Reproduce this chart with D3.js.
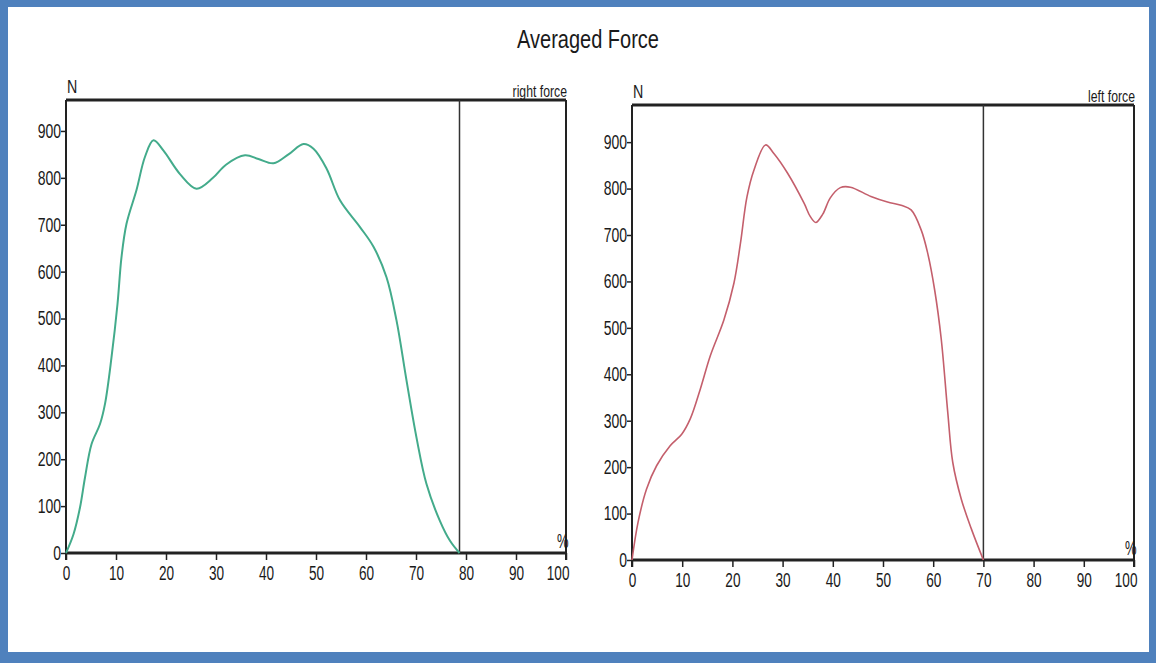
<!DOCTYPE html>
<html>
<head>
<meta charset="utf-8">
<script src="https://cdn.jsdelivr.net/npm/d3@7"></script>
<style>
  html, body { margin: 0; padding: 0; background: #fff; }
  svg { display: block; }
  text { font-family: "Liberation Sans", Arial, sans-serif; fill: #1a1a1a; }
</style>
</head>
<body>
<svg id="chart" width="1156" height="663"></svg>
<script>
// Averaged force over the stance phase (% of cycle), in newtons
const rightPct   = [0, 1.5, 2.8, 3.8, 5.1, 6.8, 7.8, 9.1, 10.3, 11.1, 12.1, 14.1, 15.8, 17.5, 19.5, 22.8, 26.1, 29.4, 32, 35.8, 38.5, 41.5, 44.5, 47.5, 49.5, 52.1, 54.8, 58.8, 61.5, 64.1, 66.1, 68.1, 70.1, 72.1, 74.8, 76.8, 78.7];
const rightForce = [0, 40, 97, 161, 232, 275, 318, 417, 531, 631, 702, 774, 845, 880, 858, 808, 777, 800, 828, 848, 840, 831, 850, 872, 862, 820, 752, 695, 653, 588, 496, 368, 246, 147, 68, 26, 0];

const leftPct   = [0, 1.2, 2.9, 4.9, 7.6, 9.9, 11.6, 13.6, 15.6, 18.3, 20.3, 21.6, 22.9, 24.3, 26.6, 28.3, 31, 34.3, 35.5, 36.6, 38, 39.5, 41.5, 43.5, 47.6, 50.9, 53.6, 55.6, 57.6, 58.9, 60.3, 61.6, 62.9, 63.9, 65.6, 67.6, 70];
const leftForce = [0, 81, 153, 203, 246, 271, 304, 368, 440, 517, 596, 682, 782, 840, 894, 875, 833, 768, 740, 727, 745, 780, 802, 803, 783, 771, 764, 754, 711, 661, 581, 476, 318, 210, 131, 67, 0];

// End of contact for each side (% of cycle)
const rightEnd = 78.7;
const leftEnd = 70;

const xTicks = [0, 10, 20, 30, 40, 50, 60, 70, 80, 90, 100];
const yTicks = [0, 100, 200, 300, 400, 500, 600, 700, 800, 900];

const titleText = "Averaged Force";

const svg = d3.select("#chart");

// squeeze text horizontally to get a narrow typeface look
function condense(sel, k) {
  sel.each(function () {
    const w = this.getComputedTextLength();
    d3.select(this).attr("textLength", w * k).attr("lengthAdjust", "spacingAndGlyphs");
  });
}

// blue frame around the figure
svg.append("rect").attr("x", 0).attr("y", 0).attr("width", 1156).attr("height", 663).attr("fill", "#4f81bd");
svg.append("rect").attr("x", 8).attr("y", 7).attr("width", 1141).attr("height", 645).attr("fill", "#ffffff");

svg.append("text")
  .attr("x", 588).attr("y", 48)
  .attr("text-anchor", "middle")
  .style("font-size", "25px")
  .text(titleText)
  .call(condense, 0.8);

function panel(cfg) {
  const x = d3.scaleLinear().domain([0, 100]).range([cfg.left, cfg.right]);
  const y = d3.scaleLinear().domain([0, cfg.yMax]).range([cfg.bottom, cfg.top]);
  const g = svg.append("g");

  // x axis
  const xa = g.append("g")
    .attr("transform", `translate(0,${cfg.bottom})`)
    .call(d3.axisBottom(x).tickValues(xTicks).tickSize(7).tickPadding(6).tickFormat(d3.format("d")));
  xa.select(".domain").remove();
  xa.selectAll(".tick line").attr("stroke", "#222").attr("stroke-width", 1.5);
  xa.selectAll(".tick text").style("font-size", "20px").attr("fill", "#1a1a1a").attr("font-family", null);
  xa.selectAll(".tick text").filter(d => d === 100).attr("text-anchor", "end").attr("dx", "3");
  xa.selectAll(".tick text").call(condense, 0.68);

  // y axis
  const ya = g.append("g")
    .attr("transform", `translate(${cfg.left},0)`)
    .call(d3.axisLeft(y).tickValues(yTicks).tickSize(5).tickPadding(0).tickFormat(d3.format("d")));
  ya.select(".domain").remove();
  ya.selectAll(".tick line").attr("stroke", "#222").attr("stroke-width", 1.5);
  ya.selectAll(".tick text").style("font-size", "20px").attr("fill", "#1a1a1a").attr("font-family", null);
  ya.selectAll(".tick text").call(condense, 0.7);

  // frame
  g.append("line").attr("x1", cfg.left).attr("x2", cfg.right).attr("y1", cfg.top).attr("y2", cfg.top)
    .attr("stroke", "#222").attr("stroke-width", 3);
  g.append("line").attr("x1", cfg.left).attr("x2", cfg.right).attr("y1", cfg.bottom).attr("y2", cfg.bottom)
    .attr("stroke", "#222").attr("stroke-width", 3);
  g.append("line").attr("x1", cfg.left).attr("x2", cfg.left).attr("y1", cfg.top).attr("y2", cfg.bottom + 7)
    .attr("stroke", "#222").attr("stroke-width", 2);
  g.append("line").attr("x1", cfg.right).attr("x2", cfg.right).attr("y1", cfg.top).attr("y2", cfg.bottom + 7)
    .attr("stroke", "#222").attr("stroke-width", 2);

  // end-of-contact marker
  g.append("line").attr("x1", x(cfg.end)).attr("x2", x(cfg.end)).attr("y1", cfg.top).attr("y2", cfg.bottom)
    .attr("stroke", "#333").attr("stroke-width", 1.5);

  // force curve
  const pts = cfg.pct.map((p, i) => [p, cfg.force[i]]);
  g.append("path")
    .datum(pts)
    .attr("fill", "none")
    .attr("stroke", cfg.color)
    .attr("stroke-width", cfg.width)
    .attr("d", d3.line().x(d => x(d[0])).y(d => y(d[1])).curve(d3.curveCatmullRom.alpha(0.5)));

  // labels
  g.append("text").attr("x", cfg.left + 1).attr("y", cfg.top - 7).style("font-size", "19px").text("N")
    .call(condense, 0.75);
  g.append("text").attr("x", cfg.right + 1).attr("y", cfg.top - 3).attr("text-anchor", "end")
    .style("font-size", "17px").text(cfg.name).call(condense, 0.72);
  g.append("text").attr("x", cfg.right - 9).attr("y", cfg.bottom - 5).style("font-size", "20px").text("%")
    .call(condense, 0.65);
}

panel({
  left: 66, right: 566, top: 100, bottom: 553, yMax: 966,
  pct: rightPct, force: rightForce, end: rightEnd,
  color: "#43ab8b", width: 2, name: "right force"
});

panel({
  left: 632, right: 1134, top: 105, bottom: 560, yMax: 980,
  pct: leftPct, force: leftForce, end: leftEnd,
  color: "#c45f6c", width: 1.6, name: "left force"
});
</script>
</body>
</html>
